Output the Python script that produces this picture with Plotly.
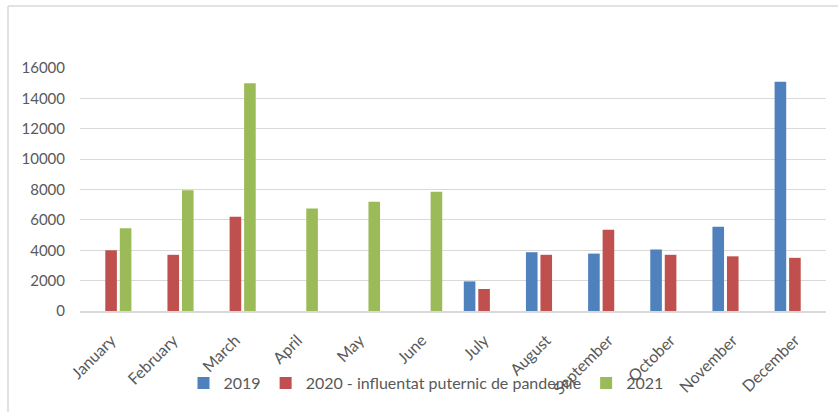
import plotly.graph_objects as go

months = ["January", "February", "March", "April", "May", "June", "July",
          "August", "September", "October", "November", "December"]
s2019 = [None, None, None, None, None, None, 1950, 3870, 3780, 4050, 5550, 15100]
s2020 = [4000, 3700, 6200, None, None, None, 1450, 3700, 5350, 3700, 3600, 3500]
s2021 = [5450, 7950, 15000, 6750, 7200, 7850, None, None, None, None, None, None]
names = ["2019", "2020 - influentat puternic de pandemie", "2021"]
colors = ["#4F81BD", "#C0504D", "#9BBB59"]
yticks = [0, 2000, 4000, 6000, 8000, 10000, 12000, 14000, 16000]
ytext = [str(v) for v in yticks]

fig = go.Figure()
for name, vals, col in zip(names, [s2019, s2020, s2021], colors):
    fig.add_trace(go.Bar(x=months, y=vals, name=name, marker_color=col,
                         marker_line_width=0))

L, R, T, B = 80, 12, 68, 101
W, H = 838, 412
pw, ph = W - L - R, H - T - B
bx = (8 - L) / pw
by = (H - B - 6) / ph

fig.update_layout(
    width=W, height=H,
    margin=dict(l=L, r=R, t=T, b=B, autoexpand=False),
    paper_bgcolor="white", plot_bgcolor="white",
    barmode="group", bargap=0.3, bargroupgap=0.2,
    font=dict(family="Lato, Liberation Sans, sans-serif", size=15, color="#595959"),
    showlegend=True,
    legend=dict(orientation="h", x=(426 - L) / pw, xanchor="center",
                y=(H - B - 383) / ph, yanchor="middle",
                bgcolor="rgba(0,0,0,0)", font=dict(size=16, color="#595959"),
                itemwidth=30, traceorder="normal"),
    xaxis=dict(tickangle=-45, showgrid=False, showline=True, linecolor="#d9d9d9",
               linewidth=1.5, ticks="", tickfont=dict(size=16), automargin=False,
               ticklabelstandoff=12),
    yaxis=dict(range=[0, 16000], tickvals=yticks, ticktext=ytext, showgrid=True,
               gridcolor="#d9d9d9", gridwidth=1, zeroline=False, showline=False,
               ticks="", tickfont=dict(size=15), ticklabelstandoff=14,
               automargin=False),
    shapes=[
        dict(type="line", xref="paper", yref="paper", x0=bx, x1=1.2, y0=by, y1=by,
             line=dict(color="#d9d9d9", width=1.5)),
        dict(type="line", xref="paper", yref="paper", x0=bx, x1=bx, y0=by, y1=-1,
             line=dict(color="#d9d9d9", width=1.5)),
    ],
)

fig.write_html("out.html", config={"displayModeBar": False},
               post_script="document.body.style.margin='0';document.body.style.overflow='hidden';")
